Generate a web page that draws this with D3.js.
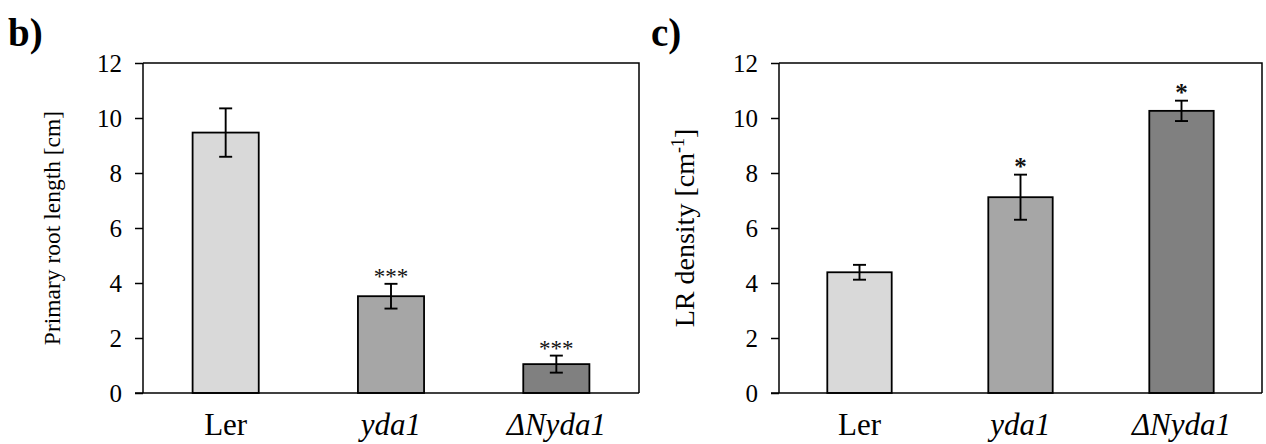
<!DOCTYPE html>
<html>
<head>
<meta charset="utf-8">
<script src="https://cdn.jsdelivr.net/npm/d3@7"></script>
<style>
  body { margin: 0; background: #fff; }
  svg text { font-family: "Liberation Serif", "Times New Roman", serif !important; }
</style>
</head>
<body>
<svg id="chart" width="1266" height="444"></svg>
<script>
// genotypes and colours
var genotypes = ["Ler", "yda1", "\u0394Nyda1"];
var italicLabel = [false, true, true];
var barColors = ["#d9d9d9", "#a6a6a6", "#808080"];

// b) primary root length [cm]
var rootLength = [9.47, 3.52, 1.05];
var rootLengthErr = [0.88, 0.45, 0.31];
var rootLengthSig = ["", "***", "***"];

// c) LR density [cm-1]
var lrDensity = [4.39, 7.12, 10.26];
var lrDensityErr = [0.27, 0.82, 0.37];
var lrDensitySig = ["", "*", "*"];

var yTicks = [0, 2, 4, 6, 8, 10, 12];

var svg = d3.select("#chart");

function drawPanel(opt) {
  var x = d3.scaleBand()
    .domain(genotypes)
    .range([opt.left, opt.right])
    .paddingInner(0.6)
    .paddingOuter(0.3);

  var y = d3.scaleLinear()
    .domain([0, 12])
    .range([393, 63]);

  var g = svg.append("g");

  var rows = genotypes.map(function(name, i) {
    return {name: name, value: opt.values[i], err: opt.errs[i], sig: opt.sig[i], color: barColors[i], italic: italicLabel[i]};
  });

  // frame top + right
  g.append("path")
    .attr("d", "M" + opt.left + "," + y(12) + "H" + opt.right + "V" + y(0))
    .attr("fill", "none")
    .attr("stroke", "#000")
    .attr("stroke-width", 1.5);

  // bars
  g.selectAll("rect.bar")
    .data(rows)
    .enter()
    .append("rect")
    .attr("class", "bar")
    .attr("x", function(d) { return x(d.name); })
    .attr("width", x.bandwidth())
    .attr("y", function(d) { return y(d.value); })
    .attr("height", function(d) { return y(0) - y(d.value); })
    .attr("fill", function(d) { return d.color; })
    .attr("stroke", "#000")
    .attr("stroke-width", 1.8);

  // error bars
  var eb = g.selectAll("g.err")
    .data(rows)
    .enter()
    .append("g")
    .attr("class", "err")
    .attr("stroke", "#000")
    .attr("stroke-width", 1.9);
  eb.append("line")
    .attr("x1", function(d) { return x(d.name) + x.bandwidth() / 2; })
    .attr("x2", function(d) { return x(d.name) + x.bandwidth() / 2; })
    .attr("y1", function(d) { return y(d.value + d.err); })
    .attr("y2", function(d) { return y(d.value - d.err); });
  [1, -1].forEach(function(s) {
    eb.append("line")
      .attr("x1", function(d) { return x(d.name) + x.bandwidth() / 2 - 6.5; })
      .attr("x2", function(d) { return x(d.name) + x.bandwidth() / 2 + 6.5; })
      .attr("y1", function(d) { return y(d.value + s * d.err); })
      .attr("y2", function(d) { return y(d.value + s * d.err); });
  });

  // significance stars
  g.selectAll("text.sig")
    .data(rows)
    .enter()
    .append("text")
    .attr("class", "sig")
    .attr("x", function(d) { return x(d.name) + x.bandwidth() / 2; })
    .attr("y", function(d) { return y(d.value + d.err) + opt.sigShift; })
    .attr("text-anchor", "middle")
    .style("font-size", opt.sigSize + "px")
    .style("font-weight", opt.sigWeight)
    .attr("fill", "#111")
    .text(function(d) { return d.sig; });

  // y axis
  var yAxis = g.append("g")
    .attr("transform", "translate(" + opt.left + ",0)")
    .call(d3.axisLeft(y).tickValues(yTicks).tickSize(8).tickPadding(13));
  yAxis.select(".domain").attr("stroke-width", 1.5).attr("d", "M0," + y(12) + "V" + y(0));
  yAxis.selectAll(".tick line").attr("stroke-width", 1.5);
  yAxis.selectAll(".tick text")
    .style("font-size", "25px")
    .attr("fill", "#000");

  // x baseline
  g.append("line")
    .attr("x1", opt.left - 8)
    .attr("x2", opt.right)
    .attr("y1", y(0))
    .attr("y2", y(0))
    .attr("stroke", "#000")
    .attr("stroke-width", 1.5);

  // category labels
  g.selectAll("text.cat")
    .data(rows)
    .enter()
    .append("text")
    .attr("class", "cat")
    .attr("x", function(d) { return x(d.name) + x.bandwidth() / 2; })
    .attr("y", 435)
    .attr("text-anchor", "middle")
    .style("font-size", "31px")
    .style("font-style", function(d) { return d.italic ? "italic" : "normal"; })
    .text(function(d) { return d.name; });

  // y title
  var title = g.append("text")
    .attr("transform", "translate(" + opt.titleX + ",228) rotate(-90)")
    .attr("text-anchor", "middle")
    .style("font-size", opt.titleSize + "px");
  title.append("tspan").text(opt.title);
  if (opt.titleSup) {
    title.append("tspan").attr("dy", -10).style("font-size", "18px").text(opt.titleSup);
    title.append("tspan").attr("dy", 10).text("]");
  }

  // panel letter
  svg.append("text")
    .attr("x", opt.letterX)
    .attr("y", 46)
    .style("font-size", "39px")
    .style("font-weight", "bold")
    .text(opt.letter);
}

drawPanel({
  left: 143, right: 639,
  values: rootLength, errs: rootLengthErr, sig: rootLengthSig,
  sigShift: 0, sigSize: 23, sigWeight: "normal",
  title: "Primary root length [cm]", titleX: 60, titleSize: 23.5,
  letter: "b)", letterX: 8
});

drawPanel({
  left: 779, right: 1262,
  values: lrDensity, errs: lrDensityErr, sig: lrDensitySig,
  sigShift: 0, sigSize: 25, sigWeight: "bold",
  title: "LR density [cm", titleSup: "-1", titleX: 694, titleSize: 28,
  letter: "c)", letterX: 651
});
</script>
</body>
</html>
